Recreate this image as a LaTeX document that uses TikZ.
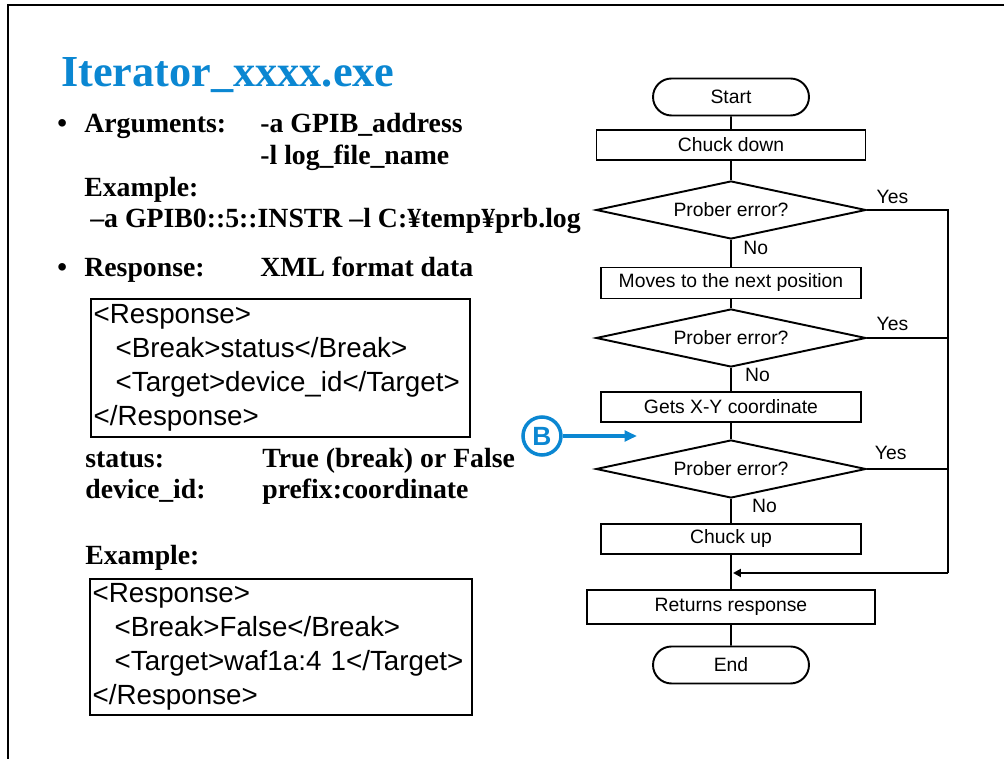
\documentclass[tikz,border=0pt]{standalone}
\usepackage{fontspec}
\setmainfont{Liberation Serif}
\newfontfamily\arialfont{Liberation Sans}
\usetikzlibrary{arrows.meta, positioning, shapes.geometric, shapes.misc}
\definecolor{ttlblue}{HTML}{0B87D2}

\begin{document}
\begin{tikzpicture}[x=0.02cm, y=-0.02cm,
  body/.style={anchor=base west, inner sep=0pt, font=\fontsize{15.8}{19}\selectfont\bfseries},
  xmlbox/.style={draw, line width=1.2pt, anchor=north west, align=left, inner xsep=1.5pt, inner ysep=0pt,
    font=\arialfont\fontsize{15.8}{19.3}\selectfont},
  flowfont/.style={font=\arialfont\fontsize{11}{13}\selectfont},
  flowbox/.style={flowfont, draw, line width=1.1pt, inner sep=0pt, minimum height=0.6cm},
  decision/.style={flowfont, diamond, draw, line width=1.1pt, aspect=4.65, minimum width=5.4cm, minimum height=1.16cm, inner sep=1pt},
  terminal/.style={flowfont, rounded rectangle, draw, line width=1.1pt, minimum width=3.12cm, minimum height=0.74cm, inner sep=0pt},
  flowlabel/.style={flowfont, inner sep=0pt},
  flowline/.style={line width=1.1pt}]

\useasboundingbox (0,0) rectangle (1005,759);

% Frame
\draw[line width=1pt] (1004,5) -- (8,5) -- (8,759);

% Title
\node[anchor=base west, inner sep=0pt, text=ttlblue, font=\fontsize{25.2}{30}\selectfont\bfseries] (title) at (61,87) {Iterator\_xxxx.exe};

% === LEFT: arguments and response ===
\node[body] (bull1) at (57,133) {•};
\node[body] (argkey) at (84,133) {Arguments:};
\node[body] (argval1) at (260,133) {-a GPIB\_address};
\node[body] (argval2) at (260,165) {-l log\_file\_name};
\node[body] (exkey1) at (84,197) {Example:};
\node[body] (exval1) at (90,228) {–a GPIB0::5::INSTR –l C:¥temp¥prb.log};

\node[body] (bull2) at (57,277) {•};
\node[body] (respkey) at (84,277) {Response:};
\node[body] (respval) at (260,277) {XML format data};

\node[xmlbox, text width=7.47cm, minimum height=2.76cm] (xmlfmt) at (90,298)
  {<Response>\\
   \hspace*{12.5pt}<Break>status</Break>\\
   \hspace*{12.5pt}<Target>device\_id</Target>\\
   </Response>};

\node[body] (statkey) at (85,468) {status:};
\node[body] (statval) at (262,468) {True (break) or False};
\node[body] (devkey) at (85,499) {device\_id:};
\node[body] (devval) at (262,499) {prefix:coordinate};

\node[body] (exkey2) at (85,565) {Example:};
\node[xmlbox, text width=7.53cm, minimum height=2.72cm] (xmlex) at (89,578)
  {<Response>\\
   \hspace*{12.5pt}<Break>False</Break>\\
   \hspace*{12.5pt}<Target>waf1a:4 1</Target>\\
   </Response>};

% === RIGHT: flowchart ===
\node[terminal] (start) at (731,97) {Start};
\node[flowbox, minimum width=5.38cm] (chuckdown) at (731,145) {Chuck down};
\node[decision] (err1) at (731,210) {Prober error?};
\node[flowbox, minimum width=5.2cm, minimum height=0.62cm] (moves) at (731,283) {Moves to the next position};
\node[decision] (err2) at (731,338) {Prober error?};
\node[flowbox, minimum width=5.2cm] (gets) at (731,407) {Gets X-Y coordinate};
\node[decision] (err3) at (731,469) {Prober error?};
\node[flowbox, minimum width=5.2cm] (chuckup) at (731,539) {Chuck up};
\node[flowbox, minimum width=5.76cm, minimum height=0.68cm] (returns) at (731,607) {Returns response};
\node[terminal] (finish) at (731,665) {End};

% main line
\draw[flowline] (start) -- (chuckdown);
\draw[flowline] (chuckdown) -- (err1);
\draw[flowline] (err1) -- node[flowlabel, pos=0.3, right=6.5pt] {No} (moves);
\draw[flowline] (moves) -- (err2);
\draw[flowline] (err2) -- node[flowlabel, pos=0.3, right=7.5pt] {No} (gets);
\draw[flowline] (gets) -- (err3);
\draw[flowline] (err3) -- node[flowlabel, pos=0.3, right=11.5pt] {No} (chuckup);
\draw[flowline] (chuckup) -- (returns);
\draw[flowline] (returns) -- (finish);

% Yes branches back to the end
\coordinate (railtop) at (948,210);
\coordinate (railbot) at (948,573);
\coordinate (merge) at (733,573);
\draw[flowline] (err1.east) -- node[flowlabel, pos=0, anchor=base west, xshift=5pt, yshift=3.5pt] {Yes} (railtop) -- (railbot);
\draw[flowline] (err2.east) -- node[flowlabel, pos=0, anchor=base west, xshift=5pt, yshift=4.5pt] {Yes} (err2.east -| railtop);
\draw[flowline] (err3.east) -- node[flowlabel, pos=0, anchor=base west, xshift=4pt, yshift=5.5pt] {Yes} (err3.east -| railtop);
\draw[flowline, -{Triangle[length=4.5pt, width=4.5pt]}] (railbot) -- (merge);

% B marker
\node[circle, draw=ttlblue, line width=2pt, minimum size=0.76cm, inner sep=0pt, text=ttlblue,
  font=\arialfont\bfseries\fontsize{15}{15}\selectfont] (bmark) at (542,436) {B};
\coordinate (btip) at (637,436);
\draw[ttlblue, line width=2pt, -{Triangle[length=7pt, width=6pt]}] (bmark) -- (btip);

\end{tikzpicture}
\end{document}
